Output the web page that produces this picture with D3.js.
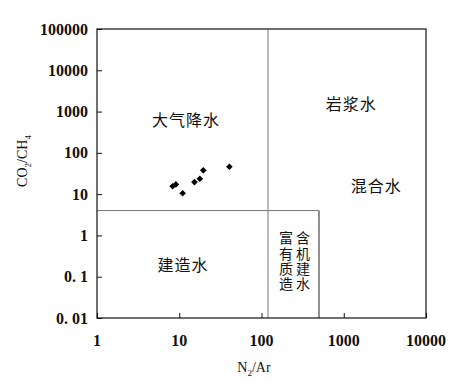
<!DOCTYPE html>
<html>
<head>
<meta charset="utf-8">
<script src="https://cdn.jsdelivr.net/npm/d3@7/dist/d3.min.js"></script>
<style>
  body { margin: 0; background: #fff; }
  svg text { fill: #111; }
</style>
</head>
<body>
<script>
"use strict";

// N2/Ar vs CO2/CH4 samples
const n2ar = [8.3, 9.1, 11.0, 15.3, 17.8, 19.6, 40.7];
const co2ch4 = [15.5, 17.2, 10.5, 19.6, 23.6, 37.7, 46];

const xTicks = [1, 10, 100, 1000, 10000];
const xTickText = ["1", "10", "100", "1000", "10000"];
const yTicks = [0.01, 0.1, 1, 10, 100, 1000, 10000, 100000];
const yTickText = ["0. 01", "0. 1", "1", "10", "100", "1000", "10000", "100000"];

// zone boundaries
const nBound = 120;      // gray vertical line
const cBound = 4;        // horizontal line
const nOrganic = 500;    // right edge of organic box

const zoneNames = ["大气降水", "岩浆水", "混合水", "建造水"];
const zoneAt = [[12.1, 620], [1230, 1500], [2480, 15], [11.1, 0.19]];
const organicRows = ["富含", "有机", "质建", "造水"];

const wSvg = 471, hSvg = 383;
const pLeft = 97, pRight = 426, pTop = 29, pBottom = 318;

const x = d3.scaleLog().domain([1, 10000]).range([pLeft, pRight]);
const y = d3.scaleLog().domain([0.01, 100000]).range([pBottom, pTop]);

const svg = d3.select("body").append("svg")
    .attr("width", wSvg).attr("height", hSvg);

const serif = "'Liberation Serif', 'Times New Roman', serif";
const cjk = "'Noto Sans CJK SC', sans-serif";

// zone lines
svg.append("line")
    .attr("x1", x(nBound)).attr("x2", x(nBound))
    .attr("y1", y(100000)).attr("y2", y(0.01))
    .attr("stroke", "#777").attr("stroke-width", 1);
svg.append("line")
    .attr("x1", x(1)).attr("x2", x(nOrganic))
    .attr("y1", y(cBound)).attr("y2", y(cBound))
    .attr("stroke", "#777").attr("stroke-width", 1);
svg.append("line")
    .attr("x1", x(nOrganic)).attr("x2", x(nOrganic))
    .attr("y1", y(cBound)).attr("y2", y(0.01))
    .attr("stroke", "#222").attr("stroke-width", 1);

// frame
svg.append("rect")
    .attr("x", pLeft).attr("y", pTop)
    .attr("width", pRight - pLeft).attr("height", pBottom - pTop)
    .attr("fill", "none").attr("stroke", "#111").attr("stroke-width", 1.2);

// axes, ticks pointing inward
const gx = svg.append("g").attr("transform", `translate(0,${pBottom})`)
    .call(d3.axisTop(x).tickValues(xTicks).tickSize(5).tickFormat(""));
const gy = svg.append("g").attr("transform", `translate(${pLeft},0)`)
    .call(d3.axisRight(y).tickValues(yTicks).tickSize(5).tickFormat(""));
[gx, gy].forEach(g => {
    g.select(".domain").remove();
    g.selectAll("line").attr("stroke", "#111");
});

svg.append("g").selectAll("text")
    .data(xTicks)
    .enter()
    .append("text")
    .attr("x", d => x(d))
    .attr("y", 346)
    .attr("text-anchor", "middle")
    .style("font-family", serif).style("font-size", "16px").style("font-weight", "bold")
    .text((d, i) => xTickText[i]);

svg.append("g").selectAll("text")
    .data(yTicks)
    .enter()
    .append("text")
    .attr("x", 88)
    .attr("y", d => y(d) + 5.5)
    .attr("text-anchor", "end")
    .style("font-family", serif).style("font-size", "16px").style("font-weight", "bold")
    .text((d, i) => yTickText[i]);

// axis titles
const xt = svg.append("text")
    .attr("x", 254).attr("y", 372)
    .attr("text-anchor", "middle")
    .style("font-family", serif).style("font-size", "14px");
xt.append("tspan").text("N");
xt.append("tspan").attr("dy", 4).style("font-size", "9px").text("2");
xt.append("tspan").attr("dy", -4).text("/Ar");

const yt = svg.append("text")
    .attr("transform", "translate(27,161) rotate(-90)")
    .attr("text-anchor", "middle")
    .style("font-family", serif).style("font-size", "14px");
yt.append("tspan").text("CO");
yt.append("tspan").attr("dy", 4).style("font-size", "9px").text("2");
yt.append("tspan").attr("dy", -4).text("/CH");
yt.append("tspan").attr("dy", 4).style("font-size", "9px").text("4");

// zone labels
svg.append("g").selectAll("text")
    .data(zoneNames)
    .enter()
    .append("text")
    .attr("x", (d, i) => x(zoneAt[i][0]))
    .attr("y", (d, i) => y(zoneAt[i][1]) + 5.5)
    .attr("text-anchor", "middle")
    .style("font-family", cjk).style("font-size", "16px")
    .style("letter-spacing", "1px")
    .text(d => d);

// organic-rich box label: read row by row, drawn as two vertical columns
const columns = [0, 1].map(c => organicRows.map(r => r[c]).join(""));
const ox = x(Math.sqrt(nBound * nOrganic)) + 1;
svg.append("g").selectAll("text")
    .data(columns)
    .enter()
    .append("text")
    .attr("x", (d, i) => ox + (i - 0.5) * 17)
    .attr("y", 231)
    .style("writing-mode", "vertical-rl")
    .style("font-family", cjk).style("font-size", "14px")
    .style("letter-spacing", "1.3px")
    .text(d => d);

// data points (diamonds)
svg.append("g").selectAll("path")
    .data(n2ar)
    .enter()
    .append("path")
    .attr("transform", (d, i) => `translate(${x(d)},${y(co2ch4[i])}) rotate(45)`)
    .attr("d", d3.symbol(d3.symbolSquare, 22))
    .attr("fill", "#000");
</script>
</body>
</html>
